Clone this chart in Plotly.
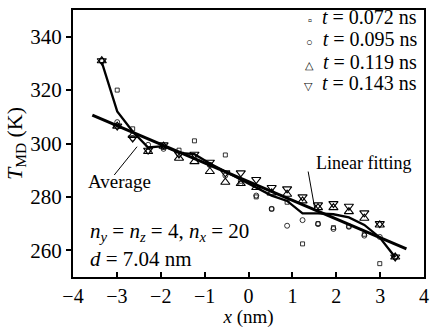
import plotly.graph_objects as go

x_bins = [-3.344, -2.992, -2.64, -2.288, -1.936, -1.584, -1.232, -0.88, -0.528, -0.176,
          0.176, 0.528, 0.88, 1.232, 1.584, 1.936, 2.288, 2.64, 2.992, 3.344]

t072 = [331, 320, 305.5, 297, 298.5, 297.5, 301, 292, 295.7, 285,
        280, 275.5, 278, 262.4, 270, 268.5, 269, 266, 255, 257.5]
t095 = [331, 308, 302, 299.5, 298, 296, 295, 292, 288, 286,
        280.5, 275.5, 269.2, 271.3, 269.8, 268, 268.8, 265.5, 265, 257.5]
t119 = [331, 306.5, 303, 297, 299, 294.5, 293.2, 289.5, 285.5, 285,
        283.5, 281.5, 281, 278.5, 276, 276, 274.5, 272, 269.5, 257.5]
t143 = [331, 306.5, 302, 297.5, 299.5, 296, 296, 293, 289, 289,
        286.5, 283.5, 283, 280, 277, 277.5, 276.5, 274, 270, 257.5]
average = [330.5, 312, 304.5, 298.5, 299, 296.5, 296, 292.5, 289.5, 286.5,
           283.5, 280.5, 278.5, 273.8, 273.8, 273.5, 272.3, 269.5, 264.8, 257.4]

fit_slope = -7.0
fit_intercept = 285.7
fit_x = [-3.56, 3.6]
fit_y = [fit_intercept + fit_slope * v for v in fit_x]

series_names = ["t = 0.072 ns", "t = 0.095 ns", "t = 0.119 ns", "t = 0.143 ns"]
legend_times = ["0.072", "0.095", "0.119", "0.143"]
legend_glyphs = ["\u25ab", "\u25cb", "\u25b3", "\u25bd"]
x_ticks = [-4, -3, -2, -1, 0, 1, 2, 3, 4]
y_ticks = [260, 280, 300, 320, 340]

# label pointer lines (data coordinates)
avg_pointer_x = [-3.06, -2.54]
avg_pointer_y = [288.2, 298.8]
fit_pointer_x = [1.36, 1.51]
fit_pointer_y = [289.5, 275.7]

FONT = "Liberation Serif"
SP = "&nbsp;"

fig = go.Figure()
fig.add_trace(go.Scatter(x=fit_x, y=fit_y, mode="lines", line=dict(color="black", width=3),
                         showlegend=False, hoverinfo="skip"))
fig.add_trace(go.Scatter(x=x_bins, y=average, mode="lines", line=dict(color="black", width=2.3),
                         showlegend=False, hoverinfo="skip"))
fig.add_trace(go.Scatter(x=avg_pointer_x, y=avg_pointer_y, mode="lines", line=dict(color="black", width=1),
                         showlegend=False, hoverinfo="skip"))
fig.add_trace(go.Scatter(x=fit_pointer_x, y=fit_pointer_y, mode="lines", line=dict(color="black", width=1),
                         showlegend=False, hoverinfo="skip"))

styles = [("square-open", 4, 0.8), ("circle-open", 5, 0.8), ("triangle-up-open", 8, 1.1), ("triangle-down-open", 8, 1.1)]
for name, ys, (sym, sz, lw) in zip(series_names, [t072, t095, t119, t143], styles):
    fig.add_trace(go.Scatter(x=x_bins, y=ys, mode="markers", name=name, showlegend=False,
                             marker=dict(symbol=sym, size=sz, color="black", line=dict(color="black", width=lw))))

# legend block (top right, inside the frame)
legend_rows_y = [0.974, 0.891, 0.805, 0.727]
for glyph, tv, yy in zip(legend_glyphs, legend_times, legend_rows_y):
    label = ('<span style="font-size:11px">' + glyph + '</span>' + SP + SP
             + "<i>t</i>" + SP + "=" + SP + tv + SP + "ns")
    fig.add_annotation(x=1, y=yy, xref="paper", yref="paper", xanchor="right", yanchor="middle",
                       xshift=-5, showarrow=False, text=label,
                       font=dict(family=FONT, size=20, color="black"))

fig.add_annotation(x=-2.94, y=285.6, xref="x", yref="y", text="Average", showarrow=False,
                   font=dict(family=FONT, size=19, color="black"))
fig.add_annotation(x=2.63, y=292.7, xref="x", yref="y", text="Linear fitting", showarrow=False,
                   font=dict(family=FONT, size=18, color="black"))
fig.add_annotation(x=-3.65, y=266.7, xref="x", yref="y", xanchor="left",
                   text="<i>n</i><sub><i>y</i></sub> = <i>n</i><sub><i>z</i></sub> = 4, <i>n</i><sub><i>x</i></sub> = 20",
                   showarrow=False, font=dict(family=FONT, size=21, color="black"))
fig.add_annotation(x=-3.65, y=256.7, xref="x", yref="y", xanchor="left",
                   text="<i>d</i> = 7.04 nm", showarrow=False, font=dict(family=FONT, size=21, color="black"))

fig.update_layout(
    width=432, height=328,
    margin=dict(l=73, r=3, t=10, b=51),
    paper_bgcolor="white", plot_bgcolor="white",
    font=dict(family=FONT, size=20, color="black"),
    showlegend=False,
    xaxis=dict(range=[-4, 4], tickvals=x_ticks, ticks="inside", ticklen=5, tickwidth=1.5, tickcolor="black",
               showline=True, linecolor="black", linewidth=2, mirror=True, showgrid=False, zeroline=False,
               title=dict(text="<i>x</i> (nm)", font=dict(family=FONT, size=19, color="black"), standoff=1),
               tickfont=dict(family=FONT, size=20, color="black")),
    yaxis=dict(range=[250, 350], tickvals=y_ticks, ticks="outside", ticklen=5, tickwidth=1.5, tickcolor="black",
               showline=True, linecolor="black", linewidth=2, mirror=True, showgrid=False, zeroline=False,
               title=dict(text="<i>T</i><sub>MD</sub> (K)", font=dict(family=FONT, size=22, color="black"), standoff=2),
               tickfont=dict(family=FONT, size=21, color="black")),
)

fig.write_html("out.html")
